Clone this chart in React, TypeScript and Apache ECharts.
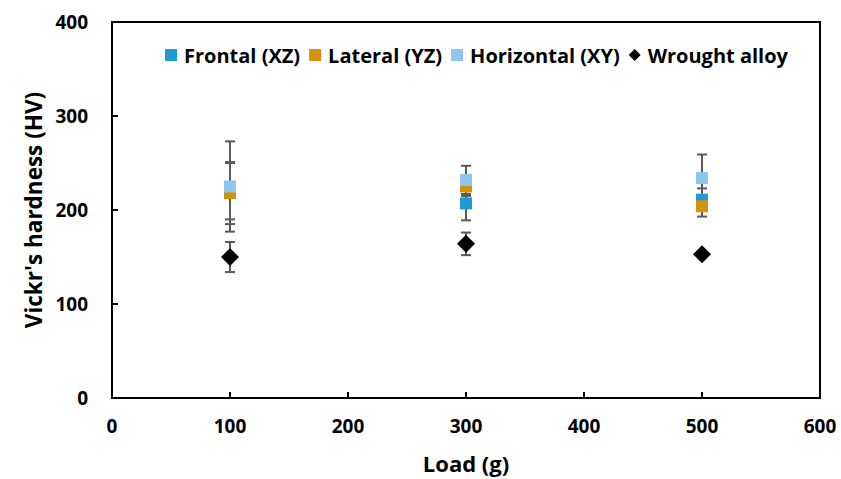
import React, { useEffect, useRef } from "react";
import * as echarts from "echarts";

const loads = [100, 300, 500];
const seriesNames = ["Frontal (XZ)", "Lateral (YZ)", "Horizontal (XY)", "Wrought alloy"];
const frontal = [220, 207, 211];
const frontalErr = [30, 18, 12];
const lateral = [218, 225, 204];
const lateralErr = [33, 10, 11];
const horizontal = [225, 232, 234];
const horizontalErr = [48, 15, 25];
const wrought = [150, 164, 153];
const wroughtErr = [16, 12, 0];
const colors = ["#1E9AD6", "#D4920A", "#8DC6EC", "#000000"];
const xTicks = { min: 0, max: 600, interval: 100 };
const yTicks = { min: 0, max: 400, interval: 100 };

const FONT = "Open Sans";

export default function App() {
  const ref = useRef<HTMLDivElement>(null);
  useEffect(() => {
    if (!ref.current) return;
    const chart = echarts.init(ref.current, undefined, { renderer: "svg" });
    const values = [frontal, lateral, horizontal, wrought];
    const errs = [frontalErr, lateralErr, horizontalErr, wroughtErr];

    const errorSeries = values.map((vals, si) => ({
      type: "custom",
      name: seriesNames[si] + " err",
      z: 1,
      silent: true,
      data: loads.map((x, i) => [x, vals[i] - errs[si][i], vals[i] + errs[si][i]]),
      renderItem: (params: any, api: any) => {
        const x = api.value(0);
        const lo = api.coord([x, api.value(1)]);
        const hi = api.coord([x, api.value(2)]);
        const w = 5;
        const style = { stroke: "#595959", lineWidth: 2, fill: "none" };
        return {
          type: "group",
          children: [
            { type: "line", shape: { x1: lo[0], y1: lo[1], x2: hi[0], y2: hi[1] }, style },
            { type: "line", shape: { x1: lo[0] - w, y1: lo[1], x2: lo[0] + w, y2: lo[1] }, style },
            { type: "line", shape: { x1: hi[0] - w, y1: hi[1], x2: hi[0] + w, y2: hi[1] }, style },
          ],
        };
      },
    }));

    const scatterSeries = values.map((vals, si) => ({
      type: "scatter",
      name: seriesNames[si],
      z: 3,
      symbol: si === 3 ? "diamond" : "rect",
      symbolSize: si === 3 ? 18 : 12,
      itemStyle: { color: colors[si], opacity: 1 },
      data: loads.map((x, i) => [x, vals[i]]),
    }));

    chart.setOption({
      animation: false,
      textStyle: { fontFamily: FONT },
      grid: {
        left: 112,
        right: 21,
        top: 22,
        bottom: 81,
        show: true,
        borderColor: "#000",
        borderWidth: 2,
        backgroundColor: "transparent",
      },
      legend: {
        data: seriesNames.map((n, i) => ({ name: n, icon: i === 3 ? "diamond" : "rect" })),
        top: 45,
        left: 165,
        padding: 0,
        itemWidth: 12,
        itemHeight: 12,
        itemGap: 9,
        textStyle: { fontFamily: FONT, fontWeight: "bold", fontSize: 20, color: "#000", padding: [0, 0, 0, 2] },
      },
      xAxis: {
        type: "value",
        ...xTicks,
        name: "Load (g)",
        nameLocation: "middle",
        nameGap: 54,
        nameTextStyle: { fontFamily: FONT, fontWeight: "bold", fontSize: 22, color: "#000" },
        axisLine: { show: true, lineStyle: { color: "#000", width: 2 } },
        axisTick: { show: true, inside: true, length: 6, lineStyle: { color: "#000", width: 2 } },
        axisLabel: { fontFamily: FONT, fontWeight: "bold", fontSize: 19, color: "#000", margin: 18 },
        splitLine: { show: false },
      },
      yAxis: {
        type: "value",
        ...yTicks,
        name: "Vickr's hardness (HV)",
        nameLocation: "middle",
        nameGap: 64,
        nameTextStyle: { fontFamily: FONT, fontWeight: "bold", fontSize: 22.5, color: "#000" },
        axisLine: { show: true, lineStyle: { color: "#000", width: 2 } },
        axisTick: { show: true, inside: true, length: 6, lineStyle: { color: "#000", width: 2 } },
        axisLabel: { fontFamily: FONT, fontWeight: "bold", fontSize: 19, color: "#000", margin: 24 },
        splitLine: { show: false },
      },
      series: [...errorSeries, ...scatterSeries],
    });
    return () => chart.dispose();
  }, []);
  return <div ref={ref} style={{ width: 841, height: 479, position: "absolute", left: 0, top: 0 }} />;
}
